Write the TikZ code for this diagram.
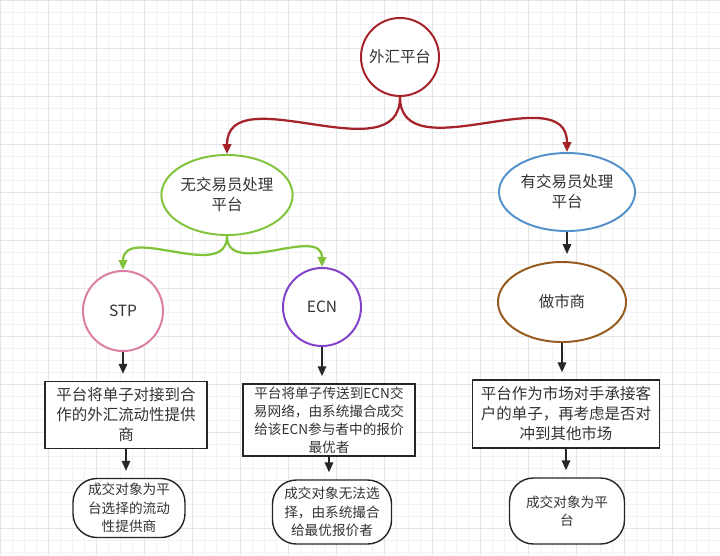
\documentclass[tikz,border=0pt]{standalone}
\usepackage{fontspec}
\setmainfont{Noto Sans CJK SC}
\usetikzlibrary{arrows.meta,shapes.geometric}

\definecolor{fxred}{RGB}{165,35,40}
\definecolor{fxgreen}{RGB}{130,195,60}
\definecolor{fxblue}{RGB}{85,145,205}
\definecolor{fxpink}{RGB}{220,125,165}
\definecolor{fxpurple}{RGB}{130,65,200}
\definecolor{fxbrown}{RGB}{150,90,30}

\begin{document}
\begin{tikzpicture}[
    x=0.025cm, y=-0.025cm,
    font=\fontsize{11}{14.2}\selectfont, text=black!80,
    circ node/.style={circle, line width=1.4pt, fill=white, inner sep=0pt, minimum size=1.95cm},
    oval node/.style={ellipse, line width=1.4pt, fill=white, inner sep=0pt, align=center},
    box node/.style={rectangle, draw=black!85, line width=1pt, fill=white, align=center, inner sep=2pt},
    end node/.style={rectangle, rounded corners=0.6cm, draw=black!85, line width=1pt, fill=white, align=center, inner sep=2pt, font=\fontsize{9.7}{13}\selectfont},
    red edge/.style={line width=1.6pt, draw=fxred, -{Triangle[length=7pt,width=6pt]}},
    green edge/.style={line width=1.6pt, draw=fxgreen, -{Triangle[length=7pt,width=6pt]}},
    flow edge/.style={line width=1.2pt, draw=black!85, -{Triangle[length=7pt,width=6pt]}, shorten >=5pt}
]

% 背景网格
\useasboundingbox (0,0) rectangle (720,555);
\fill[white] (0,0) rectangle (720,555);
\draw[black!5, step=0.3cm] (0,0) grid (720,555);
\draw[black!10, step=1.2cm] (0,0) grid (720,555);

% 平台类型
\node[circ node, draw=fxred] (FX) at (400, 57) {外汇平台};
\node[oval node, draw=fxgreen, minimum width=2.9cm, minimum height=2cm] (ND) at (227, 195) {无交易员处理\\平台};
\node[oval node, draw=fxblue, minimum width=3.4cm, minimum height=1.95cm] (DL) at (567, 192) {有交易员处理\\平台};

% 模式
\node[circ node, draw=fxpink, minimum size=2cm] (STP) at (123, 311) {STP};
\node[circ node, draw=fxpurple] (ECN) at (322, 307) {ECN};
\node[oval node, draw=fxbrown, minimum width=3.2cm, minimum height=2cm] (MM) at (562, 302) {做市商};

% 说明方框
\node[box node, minimum width=4.05cm, minimum height=1.675cm] (STPbox) at (126, 415) {平台将单子对接到合\\作的外汇流动性提供\\商};
\node[box node, minimum width=4.3cm, minimum height=1.8cm, font=\fontsize{9.7}{12.8}\selectfont] (ECNbox) at (329, 420) {平台将单子传送到ECN交\\易网络，由系统撮合成交\\给该ECN参与者中的报价\\最优者};
\node[box node, minimum width=4.675cm, minimum height=1.7cm] (MMbox) at (566, 414) {平台作为市场对手承接客\\户的单子，再考虑是否对\\冲到其他市场};

% 成交对象
\node[end node, minimum width=2.8cm, minimum height=1.475cm] (STPend) at (129, 508) {成交对象为平\\台选择的流动\\性提供商};
\node[end node, minimum width=2.975cm, minimum height=1.6cm] (ECNend) at (332, 512) {成交对象无法选\\择，由系统撮合\\给最优报价者};
\node[end node, minimum width=2.875cm, minimum height=1.65cm] (MMend) at (567, 511) {成交对象为平\\台};

% 连线
\draw[red edge] (FX.south) to[out=-90, in=90, looseness=1.1] (ND.north);
\draw[red edge] (FX.south) to[out=-90, in=90, looseness=1.1] (DL.north);
\draw[green edge] (ND.south) to[out=-90, in=90, looseness=1.1] (STP.north);
\draw[green edge] (ND.south) to[out=-90, in=90, looseness=1.1] (ECN.north);
\draw[flow edge] (DL.south) -- (DL.south |- MM.north);
\draw[flow edge] (STP.south) -- (STP.south |- STPbox.north);
\draw[flow edge] (ECN.south) -- (ECN.south |- ECNbox.north);
\draw[flow edge] (MM.south) -- (MM.south |- MMbox.north);
\draw[flow edge] (STPbox.south) -- (STPbox.south |- STPend.north);
\draw[flow edge] (ECNbox.south) -- (ECNbox.south |- ECNend.north);
\draw[flow edge] (MMbox.south) -- (MMbox.south |- MMend.north);

\end{tikzpicture}
\end{document}
